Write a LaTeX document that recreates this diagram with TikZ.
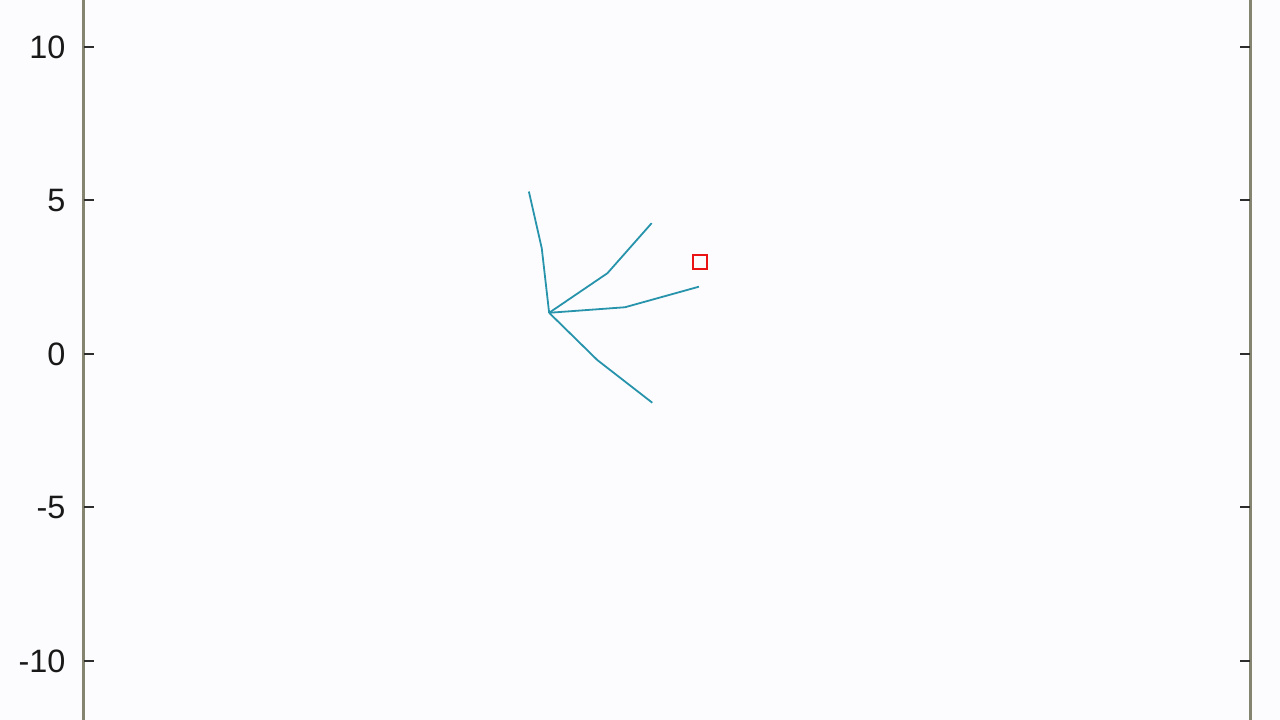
\documentclass[tikz,border=0pt]{standalone}
\usepackage{fontspec}
\setmainfont{Liberation Sans}
\usepackage{tikz}
\usetikzlibrary{calc}
\definecolor{bgpaper}{RGB}{252,252,254}
\definecolor{axisgrey}{RGB}{132,132,112}
\definecolor{tickdark}{RGB}{45,45,45}
\definecolor{armteal}{RGB}{40,148,172}
\definecolor{goalred}{RGB}{235,20,20}
\tikzset{
  ticklbl/.style={anchor=east, inner sep=0pt, font=\fontsize{16.2}{20}\selectfont, text=black!90},
  axisline/.style={draw=axisgrey, line width=1.5pt},
  tickmark/.style={draw=tickdark, line width=1pt},
  armseg/.style={draw=armteal, line width=0.9pt, line join=round},
}
\begin{document}
\begin{tikzpicture}[x=0.5395cm, y=0.5395cm,
    goal/.style={draw=goalred, line width=1pt, minimum size=7pt, inner sep=0pt}]
  % frame and background
  \fill[bgpaper] (-21.73,-11.92) rectangle (19.97,11.53);
  \useasboundingbox (-21.73,-11.92) rectangle (19.97,11.53);

  % axes (left and right)
  \draw[axisline] (-19,-11.92) -- (-19,11.53);
  \draw[axisline] (19,-11.92) -- (19,11.53);
  \foreach \yy in {-10,-5,0,5,10} {
    \draw[tickmark] (-19,\yy) -- ++(5pt,0);
    \draw[tickmark] (19,\yy) -- ++(-5pt,0);
    \node[ticklbl] (lbl\yy) at ($(-19,\yy)+(-9pt,0)$) {\yy};
  }

  % arm joints
  \coordinate (base) at (-3.84,1.34);
  \coordinate (a1) at (-4.08,3.44);  \coordinate (e1) at (-4.50,5.29);
  \coordinate (a2) at (-1.94,2.63);  \coordinate (e2) at (-0.50,4.26);
  \coordinate (a3) at (-1.37,1.52);  \coordinate (e3) at (1.04,2.19);
  \coordinate (a4) at (-2.27,-0.20); \coordinate (e4) at (-0.48,-1.59);

  \foreach \k in {1,2,3,4}
    \draw[armseg] (base) -- (a\k) -- (e\k);

  % target
  \node[goal] (target) at (1.07,3.00) {};
\end{tikzpicture}
\end{document}
